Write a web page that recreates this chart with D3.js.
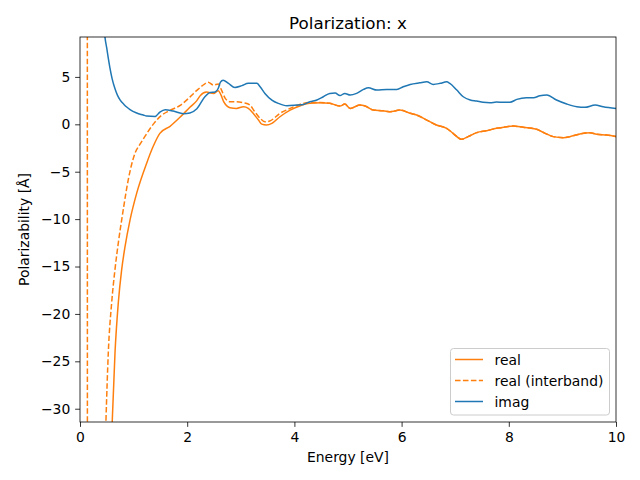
<!DOCTYPE html>
<html><head><meta charset="utf-8">
<script src="https://cdn.jsdelivr.net/npm/d3@7"></script>
<style>body{margin:0;background:#fff}svg{display:block;font-family:"DejaVu Sans",sans-serif}</style>
</head><body><svg id="c" width="640" height="480"></svg>
<script>
// ---- data ----
const realX = [0.05,0.3,0.5,0.603,0.653,0.715,0.778,0.84,0.933,1.058,1.244,1.36,1.49,1.68,1.87,2.05,2.18,2.24,2.36,2.49,2.58,2.63,2.68,2.75,2.80,2.92,3.05,3.14,3.23,3.33,3.39,3.48,3.58,3.73,3.92,4.10,4.29,4.48,4.66,4.85,4.94,5.04,5.22,5.32,5.47,5.66,5.78,5.97,6.16,6.28,6.47,6.65,6.84,6.96,7.12,7.24,7.40,7.59,7.77,7.90,8.08,8.27,8.52,8.68,8.83,9.02,9.14,9.33,9.51,9.64,9.83,10];
const realY = [-4000,-200,-50,-31.1,-24.1,-18.8,-15.3,-12.9,-10.1,-7.26,-4.1,-2.4,-0.95,-0.21,0.77,1.8,2.5,3.0,3.4,3.25,3.55,3.1,2.4,1.9,1.75,1.68,1.85,1.68,1.16,0.45,0.02,-0.07,0.1,0.8,1.5,1.93,2.21,2.27,2.21,1.93,2.14,1.68,2.03,1.93,1.5,1.43,1.33,1.5,1.16,0.98,0.45,-0.07,-0.42,-0.95,-1.58,-1.3,-0.88,-0.67,-0.42,-0.32,-0.18,-0.32,-0.53,-0.95,-1.3,-1.41,-1.3,-1.02,-0.88,-1.05,-1.13,-1.3];
const interX = [0.10,0.135,0.145,0.3,0.42,0.485,0.528,0.591,0.653,0.715,0.797,0.90,1.026,1.12,1.22,1.38,1.52,1.68,1.87,2.05,2.18,2.33,2.39,2.49,2.58,2.64,2.71,2.80,2.92,3.05,3.17,3.26,3.36,3.45,3.54,3.73,3.92,4.10,4.29,4.48,4.66,4.85,4.94,5.04,5.22,5.32,5.47,5.66,5.78,5.97,6.16,6.28,6.47,6.65,6.84,6.96,7.12,7.24,7.40,7.59,7.77,7.90,8.08,8.27,8.52,8.68,8.83,9.02,9.14,9.33,9.51,9.64,9.83,10];
const interY = [20,60,-400,-150,-45,-31.1,-24.1,-18.8,-15.3,-12.5,-9.37,-5.86,-3.05,-2.1,-1.2,0.1,0.95,1.47,2.0,2.87,3.58,4.27,4.45,4.14,4.24,3.61,2.74,2.38,2.38,2.27,2.03,1.33,0.63,0.27,0.35,1.16,1.68,2.1,2.3,2.3,2.21,1.93,2.14,1.68,2.03,1.93,1.5,1.43,1.33,1.5,1.16,0.98,0.45,-0.07,-0.42,-0.95,-1.58,-1.3,-0.88,-0.67,-0.42,-0.32,-0.18,-0.32,-0.53,-0.95,-1.3,-1.41,-1.3,-1.02,-0.88,-1.05,-1.13,-1.3];
const imagX = [0.30,0.40,0.466,0.50,0.53,0.56,0.60,0.65,0.70,0.75,0.82,0.871,0.933,1.058,1.18,1.244,1.40,1.49,1.59,1.74,1.93,2.05,2.18,2.33,2.43,2.52,2.58,2.62,2.67,2.77,2.89,3.02,3.14,3.30,3.36,3.45,3.58,3.70,3.86,4.04,4.17,4.29,4.42,4.54,4.66,4.76,4.85,4.94,5.04,5.16,5.29,5.38,5.54,5.72,5.91,6.03,6.16,6.34,6.47,6.59,6.72,6.84,6.90,7.03,7.15,7.28,7.40,7.52,7.65,7.77,7.90,8.02,8.15,8.33,8.46,8.58,8.71,8.89,9.08,9.27,9.42,9.61,9.76,10];
const imagY = [40,15,9.19,8.0,6.9,5.9,4.8,3.8,3.05,2.55,2.1,1.82,1.55,1.19,0.98,0.87,0.82,1.29,1.54,1.4,1.12,1.19,1.64,2.9,3.35,3.4,3.8,4.45,4.66,4.32,3.89,4.08,4.32,4.32,3.96,3.26,2.56,2.21,1.96,2.03,2.1,2.38,2.56,2.91,3.26,3.3,3.03,3.26,3.08,3.26,3.68,3.85,3.61,3.68,3.68,3.96,4.21,4.38,4.48,4.21,4.32,4.48,4.32,3.61,2.91,2.56,2.45,2.32,2.27,2.35,2.32,2.32,2.63,2.8,2.8,3.01,3.08,2.56,2.14,1.85,1.79,2.03,1.85,1.68];
const xTicks = [0,2,4,6,8,10];
const yTicks = [5,0,-5,-10,-15,-20,-25,-30];
const seriesNames = ["real","real (interband)","imag"];
const title = "Polarization: x";
const xLabel = "Energy [eV]";
const yLabel = "Polarizability [Å]";

// ---- layout ----
const L=80,R=616,T=37,B=422;
const orange="#ff7f0e", blue="#1f77b4";
const svg=d3.select("#c");
const x=d3.scaleLinear().domain([0,10]).range([L,R]);
const y=d3.scaleLinear().domain([-31.4,9.21]).range([B,T]);

svg.append("defs").append("clipPath").attr("id","clip")
  .append("rect").attr("x",L).attr("y",T).attr("width",R-L).attr("height",B-T);

const line=d3.line().x(d=>x(d[0])).y(d=>y(d[1])).curve(d3.curveMonotoneX);
const g=svg.append("g").attr("clip-path","url(#clip)");
const zip=(a,b)=>a.map((v,i)=>[v,b[i]]);
g.append("path").attr("d",line(zip(realX,realY))).attr("fill","none").attr("stroke",orange).attr("stroke-width",1.5).attr("stroke-linejoin","round");
g.append("path").attr("d",line(zip(interX,interY))).attr("fill","none").attr("stroke",orange).attr("stroke-width",1.5).attr("stroke-dasharray","5.55,2.4");
g.append("path").attr("d",line(zip(imagX,imagY))).attr("fill","none").attr("stroke",blue).attr("stroke-width",1.5).attr("stroke-linejoin","round");

// axes
const fs="13.9px";
const xa=svg.append("g").attr("transform",`translate(0,${B})`)
  .call(d3.axisBottom(x).tickValues(xTicks).tickSize(4.86).tickPadding(4.86).tickFormat(d3.format("d")));
const ya=svg.append("g").attr("transform",`translate(${L},0)`)
  .call(d3.axisLeft(y).tickValues(yTicks).tickSize(4.86).tickPadding(4.86).tickFormat(d=>d<0?"\u2212"+Math.abs(d):String(d)));
[xa,ya].forEach(a=>{a.select(".domain").remove();a.selectAll("text").attr("font-size",fs).attr("font-family","DejaVu Sans").attr("fill","#000");a.selectAll("line").attr("stroke","#000").attr("stroke-width",0.8);});

svg.append("rect").attr("x",L).attr("y",T).attr("width",R-L).attr("height",B-T)
  .attr("fill","none").attr("stroke","#000").attr("stroke-width",0.8);

svg.append("text").attr("x",(L+R)/2).attr("y",29).attr("text-anchor","middle").attr("font-size","16.7px").text(title);
svg.append("text").attr("x",(L+R)/2).attr("y",462).attr("text-anchor","middle").attr("font-size",fs).text(xLabel);
svg.append("text").attr("transform",`translate(29,${(T+B)/2}) rotate(-90)`).attr("text-anchor","middle").attr("font-size",fs).text(yLabel);

// legend
const lg=svg.append("g");
lg.append("rect").attr("x",450.5).attr("y",348.5).attr("width",159).attr("height",66.5).attr("rx",3)
  .attr("fill","#fff").attr("fill-opacity",0.8).attr("stroke","#cccccc").attr("stroke-width",1);
const styles=[{c:orange,d:null},{c:orange,d:"5.55,2.4"},{c:blue,d:null}];
seriesNames.forEach((n,i)=>{
  const yy=359.5+i*21;
  lg.append("line").attr("x1",455).attr("x2",483).attr("y1",yy).attr("y2",yy)
    .attr("stroke",styles[i].c).attr("stroke-width",1.5).attr("stroke-dasharray",styles[i].d);
  lg.append("text").attr("x",494.5).attr("y",yy+5).attr("font-size",fs).text(n);
});
</script></body></html>
